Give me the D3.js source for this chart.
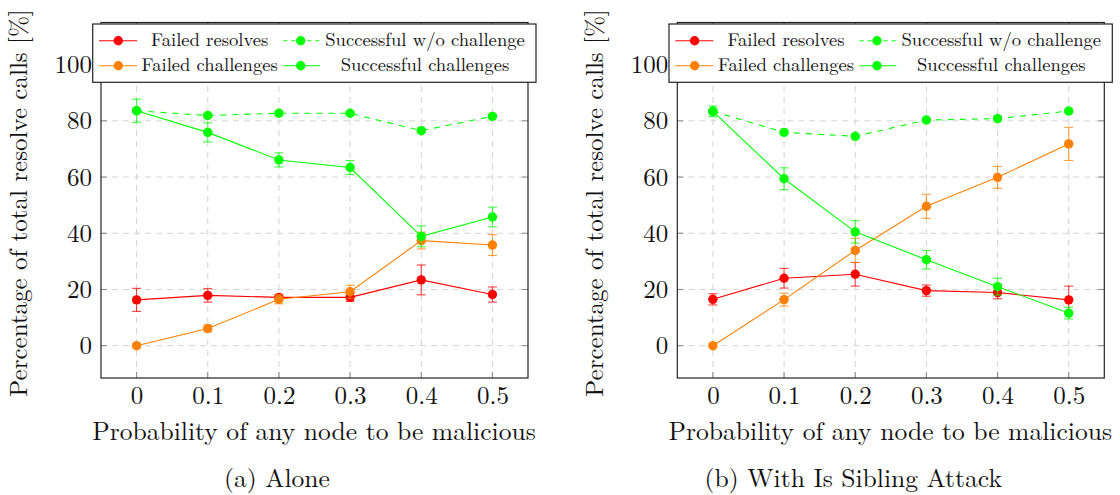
<!DOCTYPE html>
<html>
<head>
<meta charset="utf-8">
<script src="https://cdn.jsdelivr.net/npm/d3@7"></script>
<style>
  body { margin: 0; background: #fff; }
</style>
</head>
<body>
<div id="chart"></div>
<script>
var FONT = "'Latin Modern Roman', 'Liberation Serif', serif";

// x values and tick labels
var xs = [0, 0.1, 0.2, 0.3, 0.4, 0.5];
var xTickLabels = ["0", "0.1", "0.2", "0.3", "0.4", "0.5"];
var yTicks = [0, 20, 40, 60, 80, 100];

var seriesNames = ["Failed resolves", "Successful w/o challenge", "Failed challenges", "Successful challenges"];
var seriesColors = ["#ff0000", "#00ff00", "#ff8000", "#00ff00"];
var seriesDashed = [false, true, false, false];

// (a) Alone
var aloneFailedResolves     = [16.3, 17.9, 17.2, 17.2, 23.4, 18.2];
var aloneFailedResolvesErr  = [4.1, 2.4, 1.0, 1.4, 5.3, 2.7];
var aloneSuccWo             = [83.6, 81.9, 82.7, 82.7, 76.5, 81.6];
var aloneSuccWoErr          = [0.6, 0.6, 0.6, 0.6, 0.6, 0.6];
var aloneFailedChallenges   = [0, 6.1, 16.5, 19.2, 37.4, 35.8];
var aloneFailedChallErr     = [0, 1.2, 1.6, 2.3, 3.0, 3.7];
var aloneSuccChallenges     = [83.6, 75.9, 66.1, 63.4, 38.9, 45.8];
var aloneSuccChallErr       = [4.1, 3.4, 2.5, 2.5, 3.7, 3.5];

// (b) With Is Sibling Attack
var sibFailedResolves       = [16.5, 24.0, 25.4, 19.6, 18.9, 16.3];
var sibFailedResolvesErr    = [2.0, 3.5, 4.2, 2.0, 2.2, 4.9];
var sibSuccWo               = [83.4, 75.9, 74.5, 80.3, 80.8, 83.5];
var sibSuccWoErr            = [0.6, 0.6, 0.6, 0.6, 0.6, 0.6];
var sibFailedChallenges     = [0, 16.4, 33.9, 49.6, 59.9, 71.8];
var sibFailedChallErr       = [0, 2.3, 4.3, 4.3, 3.9, 5.9];
var sibSuccChallenges       = [83.4, 59.4, 40.5, 30.6, 21.0, 11.6];
var sibSuccChallErr         = [1.9, 3.9, 4.0, 3.3, 3.0, 2.1];

var panels = [
  { offset: 0, caption: "(a) Alone",
    values: [aloneFailedResolves, aloneSuccWo, aloneFailedChallenges, aloneSuccChallenges],
    errors: [aloneFailedResolvesErr, aloneSuccWoErr, aloneFailedChallErr, aloneSuccChallErr] },
  { offset: 576.3, caption: "(b) With Is Sibling Attack",
    values: [sibFailedResolves, sibSuccWo, sibFailedChallenges, sibSuccChallenges],
    errors: [sibFailedResolvesErr, sibSuccWoErr, sibFailedChallErr, sibSuccChallErr] }
];

var W = 1120, H = 495;
var svg = d3.select("#chart").append("svg")
    .attr("width", W)
    .attr("height", H)
    .attr("font-family", FONT);

var x = d3.scaleLinear().domain([-0.05, 0.55]).range([101, 528]);
var y = d3.scaleLinear().domain([-11.5, 115]).range([378, 22.5]);

panels.forEach(function (p) {
  var g = svg.append("g").attr("transform", "translate(" + p.offset + ",0)");
  var x0 = x.range()[0], x1 = x.range()[1], y0 = y.range()[0], y1 = y.range()[1];

  // grid
  g.selectAll(".vgrid").data(xs).enter().append("line")
      .attr("x1", function (d) { return x(d); }).attr("x2", function (d) { return x(d); })
      .attr("y1", y0).attr("y2", y1)
      .attr("stroke", "#d4d4d4").attr("stroke-dasharray", "6,5");
  g.selectAll(".hgrid").data(yTicks).enter().append("line")
      .attr("x1", x0).attr("x2", x1)
      .attr("y1", function (d) { return y(d); }).attr("y2", function (d) { return y(d); })
      .attr("stroke", "#d4d4d4").attr("stroke-dasharray", "6,5");

  // inner ticks
  yTicks.forEach(function (t) {
    g.append("line").attr("x1", x0).attr("x2", x0 + 6).attr("y1", y(t)).attr("y2", y(t)).attr("stroke", "#888");
    g.append("line").attr("x1", x1).attr("x2", x1 - 6).attr("y1", y(t)).attr("y2", y(t)).attr("stroke", "#888");
  });
  xs.forEach(function (t) {
    g.append("line").attr("x1", x(t)).attr("x2", x(t)).attr("y1", y0).attr("y2", y0 - 6).attr("stroke", "#888");
    g.append("line").attr("x1", x(t)).attr("x2", x(t)).attr("y1", y1).attr("y2", y1 + 6).attr("stroke", "#888");
  });

  // frame
  g.append("rect").attr("x", x0).attr("y", y1).attr("width", x1 - x0).attr("height", y0 - y1)
      .attr("fill", "none").attr("stroke", "#222").attr("stroke-width", 1.2);

  // tick labels via axes
  var xa = g.append("g").attr("transform", "translate(0," + y0 + ")")
      .call(d3.axisBottom(x).tickValues(xs).tickSize(0).tickPadding(8)
        .tickFormat(function (d, i) { return xTickLabels[i]; }))
      .attr("font-family", FONT).attr("font-size", 25);
  xa.select(".domain").remove();
  xa.selectAll("text").attr("fill", "#111");

  var ya = g.append("g").attr("transform", "translate(" + x0 + ",0)")
      .call(d3.axisLeft(y).tickValues(yTicks).tickSize(0).tickPadding(9))
      .attr("font-family", FONT).attr("font-size", 25);
  ya.select(".domain").remove();
  ya.selectAll("text").attr("fill", "#111");

  // axis titles
  g.append("text").attr("x", (x0 + x1) / 2 - 0.5).attr("y", 440)
      .attr("text-anchor", "middle").attr("font-size", 25.6).attr("fill", "#111")
      .text("Probability of any node to be malicious");
  g.append("text").attr("transform", "translate(27,203) rotate(-90)")
      .attr("text-anchor", "middle").attr("font-size", 25).attr("fill", "#111")
      .text("Percentage of total resolve calls [%]");
  g.append("text").attr("x", 277).attr("y", 487)
      .attr("text-anchor", "middle").attr("font-size", 25.6).attr("fill", "#111")
      .text(p.caption);

  // series
  var line = d3.line().x(function (d) { return x(d[0]); }).y(function (d) { return y(d[1]); });
  p.values.forEach(function (vals, si) {
    var col = seriesColors[si];
    var pts = xs.map(function (xv, i) { return [xv, vals[i], p.errors[si][i]]; });
    var sg = g.append("g");
    sg.append("path").datum(pts).attr("d", line)
        .attr("fill", "none").attr("stroke", col).attr("stroke-width", 1.1)
        .attr("stroke-dasharray", seriesDashed[si] ? "6,6" : null);
    // error bars
    pts.forEach(function (d) {
      if (!d[2]) return;
      var eb = sg.append("g").attr("stroke", col).attr("stroke-opacity", 0.75).attr("stroke-width", 1.1);
      eb.append("line").attr("x1", x(d[0])).attr("x2", x(d[0])).attr("y1", y(d[1] - d[2])).attr("y2", y(d[1] + d[2]));
      [d[1] - d[2], d[1] + d[2]].forEach(function (v) {
        eb.append("line").attr("x1", x(d[0]) - 4.5).attr("x2", x(d[0]) + 4.5).attr("y1", y(v)).attr("y2", y(v));
      });
    });
    sg.selectAll("circle").data(pts).enter().append("circle")
        .attr("cx", function (d) { return x(d[0]); })
        .attr("cy", function (d) { return y(d[1]); })
        .attr("r", 4.7).attr("fill", col);
  });

  // legend
  var lg = g.append("g");
  lg.append("rect").attr("x", 92.7).attr("y", 24).attr("width", 443.3).attr("height", 58.3)
      .attr("fill", "#fff").attr("stroke", "#222").attr("stroke-width", 1.2);
  var cols = [{ lx0: 99, lx1: 137, mx: 118.3, tx: 209.7 }, { lx0: 283.3, lx1: 320, mx: 300.7, tx: 425 }];
  var rows = [40.7, 65.7];
  seriesNames.forEach(function (name, si) {
    var c = cols[si % 2], ry = rows[Math.floor(si / 2)];
    lg.append("line").attr("x1", c.lx0).attr("x2", c.lx1).attr("y1", ry).attr("y2", ry)
        .attr("stroke", seriesColors[si]).attr("stroke-width", 1.1)
        .attr("stroke-dasharray", seriesDashed[si] ? "4,4" : null);
    lg.append("circle").attr("cx", c.mx).attr("cy", ry).attr("r", 4.7).attr("fill", seriesColors[si]);
    lg.append("text").attr("x", c.tx).attr("y", ry).attr("dy", "0.3em")
        .attr("text-anchor", "middle").attr("font-size", 18.6).attr("fill", "#111").text(name);
  });
});
</script>
</body>
</html>
